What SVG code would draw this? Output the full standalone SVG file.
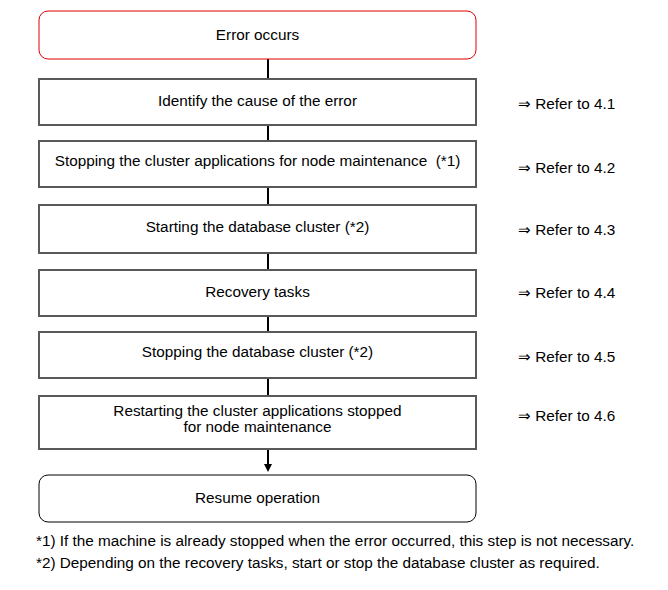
<svg xmlns="http://www.w3.org/2000/svg" width="668" height="590" viewBox="0 0 668 590">
<style>
text{font-family:"Liberation Sans",Arial,sans-serif;font-size:15.3px;fill:#000}
.c{text-anchor:middle}
.box{fill:#fff;stroke:#595959;stroke-width:2}
.rnd{fill:#fff;stroke:#000;stroke-width:1}
.conn{stroke:#000;stroke-width:2;fill:none}
</style>
<defs>
<marker id="ah" markerWidth="8" markerHeight="8" refX="4" refY="4" orient="auto" markerUnits="userSpaceOnUse">
<path d="M0,0 L8,4 L0,8 Z" fill="#000"/>
</marker>
</defs>
<rect width="668" height="590" fill="#fff"/>
<g id="connectors">
<line class="conn" x1="268" y1="59" x2="268" y2="79"/>
<line class="conn" x1="268" y1="125" x2="268" y2="141"/>
<line class="conn" x1="268" y1="187" x2="268" y2="205"/>
<line class="conn" x1="268" y1="253" x2="268" y2="270"/>
<line class="conn" x1="268" y1="316" x2="268" y2="332"/>
<line class="conn" x1="268" y1="378" x2="268" y2="396"/>
<line class="conn" x1="268" y1="449" x2="268" y2="468" marker-end="url(#ah)"/>
</g>
<g id="n0"><rect x="39" y="11" width="437" height="48" rx="9" fill="#fff" stroke="#e00000" stroke-width="1"/><text class="c" x="257.5" y="40">Error occurs</text></g>
<g id="n1"><rect class="box" x="39" y="79" width="437" height="46"/><text class="c" x="257.5" y="106">Identify the cause of the error</text></g>
<g id="n2"><rect class="box" x="39" y="141" width="437" height="46"/><text class="c" x="257.5" y="166" xml:space="preserve">Stopping the cluster applications for node maintenance  (*1)</text></g>
<g id="n3"><rect class="box" x="39" y="205" width="437" height="48"/><text class="c" x="257.5" y="232">Starting the database cluster (*2)</text></g>
<g id="n4"><rect class="box" x="39" y="270" width="437" height="46"/><text class="c" x="257.5" y="297">Recovery tasks</text></g>
<g id="n5"><rect class="box" x="39" y="332" width="437" height="46"/><text class="c" x="257.5" y="357">Stopping the database cluster (*2)</text></g>
<g id="n6"><rect class="box" x="39" y="396" width="437" height="53"/><text class="c" x="257.5" y="416">Restarting the cluster applications stopped</text><text class="c" x="257.5" y="432">for node maintenance</text></g>
<g id="n7"><rect class="rnd" x="39" y="475" width="437" height="47" rx="9"/><text class="c" x="257.5" y="503">Resume operation</text></g>
<g id="refs">
<text x="518" y="109">⇒ Refer to 4.1</text>
<text x="518" y="173">⇒ Refer to 4.2</text>
<text x="518" y="235">⇒ Refer to 4.3</text>
<text x="518" y="298">⇒ Refer to 4.4</text>
<text x="518" y="362">⇒ Refer to 4.5</text>
<text x="518" y="421">⇒ Refer to 4.6</text>
</g>
<g id="notes">
<text x="36" y="546">*1) If the machine is already stopped when the error occurred, this step is not necessary.</text>
<text x="36" y="568">*2) Depending on the recovery tasks, start or stop the database cluster as required.</text>
</g>
</svg>
